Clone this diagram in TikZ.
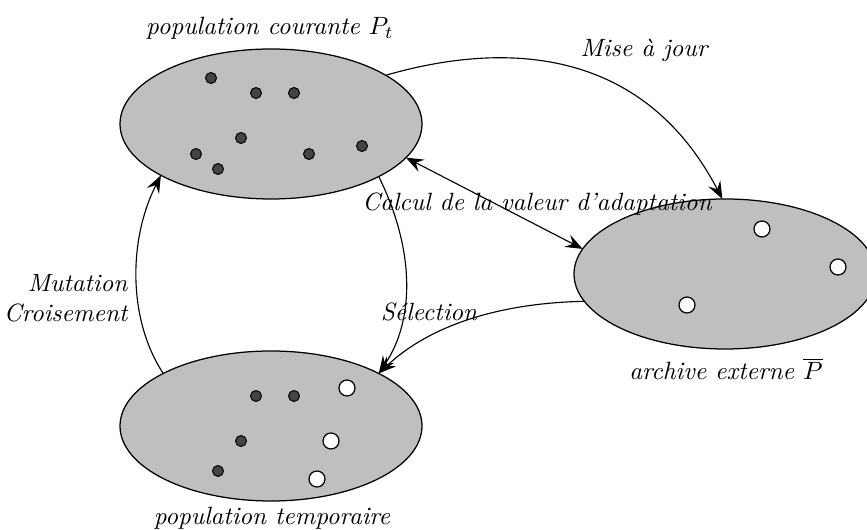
\documentclass[tikz,border=0pt]{standalone}
\usetikzlibrary{shapes.geometric,arrows.meta}
\definecolor{setgray}{RGB}{191,191,191}
\definecolor{dotgray}{RGB}{68,68,68}
\begin{document}
\begin{tikzpicture}[x=0.4pt,y=-0.4pt,
  >={Stealth[length=7pt,width=5.4pt,inset=2.6pt]},
  setblob/.style={ellipse,draw=black,fill=setgray,line width=0.5pt,
    minimum width=120.8pt,minimum height=60pt,inner sep=0pt,outer sep=0pt},
  member/.style={circle,draw=black,fill=dotgray,line width=0.4pt,
    minimum size=4.4pt,inner sep=0pt},
  archived/.style={circle,draw=black,fill=white,line width=0.5pt,
    minimum size=6.4pt,inner sep=0pt},
  flow/.style={line width=0.45pt},
  lbl/.style={font=\itshape,inner sep=0pt,anchor=base}
]
\useasboundingbox (0,0) rectangle (867,530);
\clip (0,0) rectangle (867,530);

% the three sets
\node[setblob] (pop)  at (271,124) {};
\node[setblob] (arch) at (725,274) {};
\node[setblob] (temp) at (271,426) {};

% individuals of the current population
\node[member] (p1) at (211,78)  {};
\node[member] (p2) at (256,93)  {};
\node[member] (p3) at (294,93)  {};
\node[member] (p4) at (241,138) {};
\node[member] (p5) at (196,154) {};
\node[member] (p6) at (218,169) {};
\node[member] (p7) at (309,154) {};
\node[member] (p8) at (362,146) {};

% external archive
\node[archived] (a1) at (762,229) {};
\node[archived] (a2) at (838,267) {};
\node[archived] (a3) at (687,305) {};

% temporary population
\node[member] (t1) at (256,396) {};
\node[member] (t2) at (294,396) {};
\node[member] (t3) at (241,441) {};
\node[member] (t4) at (218,471) {};
\node[archived] (t5) at (347,388) {};
\node[archived] (t6) at (331,441) {};
\node[archived] (t7) at (317,479) {};

% set names
\node[lbl] (popname)  at (270,35)  {population courante $P_t$};
\node[lbl] (archname) at (726,380) {archive externe $\overline{P}$};
\node[lbl] (tempname) at (272,525) {population temporaire};

% step names
\node[lbl] (maj)   at (644,57)  {Mise à jour};
\node[lbl] (calc)  at (537,211) {Calcul de la valeur d'adaptation};
\node[lbl] (sel)   at (429,321) {Sélection};
\node[lbl,anchor=base east] (mut)   at (128,292) {Mutation};
\node[lbl,anchor=base east] (crois) at (128,322) {Croisement};

% connectors
\draw[flow,->] (pop.23) .. controls (480,48) and (635,32) .. (arch.92);
\draw[flow,<->] (pop.-14) -- (arch.170);
\draw[flow,->] (pop.-26) .. controls (415,250) and (415,320) .. (temp.26);
\draw[flow,->] (arch.191) .. controls (500,303) and (430,325) .. (temp.26);
\draw[flow,->] (temp.154) .. controls (128,320) and (128,240) .. (pop.205);
\end{tikzpicture}
\end{document}
